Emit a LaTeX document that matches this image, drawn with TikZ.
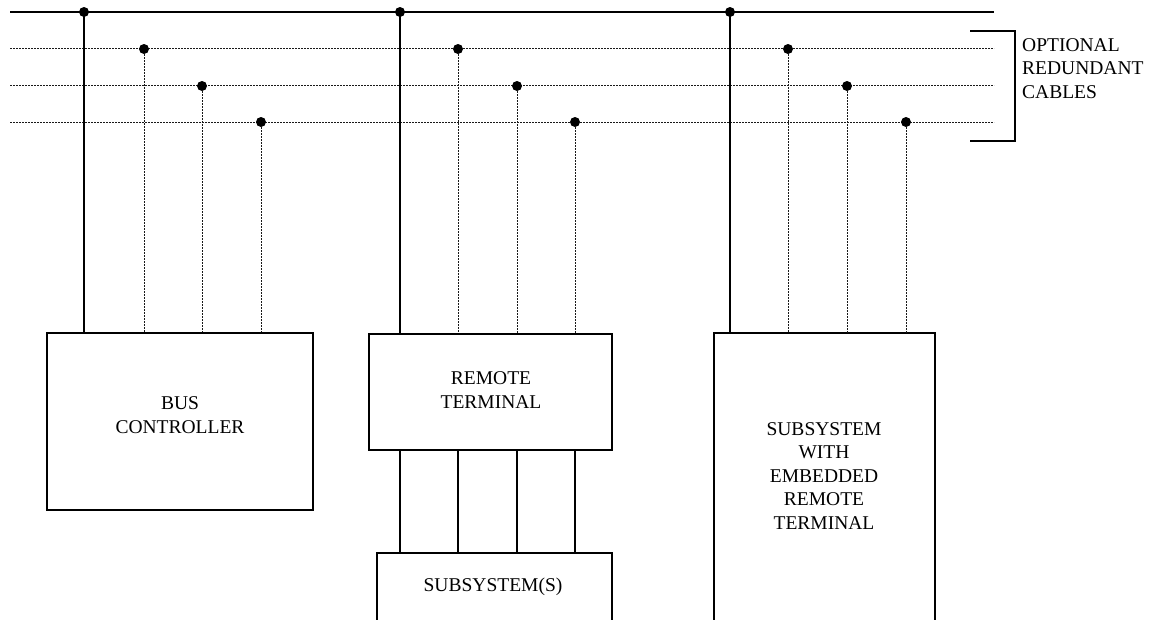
\documentclass[tikz,border=0pt]{standalone}
\usepackage{fontspec}
\setmainfont{Liberation Serif}
\begin{document}
\begin{tikzpicture}[x=1pt,y=-1pt,
  bus/.style={line width=2.2pt},
  redund/.style={line width=1pt, dash pattern=on 2pt off 1pt, black!90},
  tap/.style={circle, fill=black, inner sep=0pt, minimum size=10pt},
  box/.style={draw, line width=2.2pt, inner sep=0pt},
  lbl/.style={align=center, inner sep=0pt, font=\fontsize{19.5}{23.5}\selectfont}]
\useasboundingbox (0,0) rectangle (1152,619);

% bus lines
\coordinate (bAs) at (10,12);  \coordinate (bAe) at (994,12);
\coordinate (bBs) at (10,48);  \coordinate (bBe) at (994,48);
\coordinate (bCs) at (10,85);  \coordinate (bCe) at (994,85);
\coordinate (bDs) at (10,122); \coordinate (bDe) at (994,122);
\draw[bus] (bAs) -- (bAe);
\draw[redund] (bBs) -- (bBe);
\draw[redund] (bCs) -- (bCe);
\draw[redund] (bDs) -- (bDe);

% boxes
\node[box, minimum width=266pt, minimum height=177pt] (bc) at (180,421.5) {};
\node[lbl] (bcl) at (180,415) {BUS\\CONTROLLER};

\node[box, minimum width=243pt, minimum height=116pt] (rt) at (490.5,392) {};
\node[lbl] (rtl) at (491,390) {REMOTE\\TERMINAL};

\coordinate (ssbl) at (377,625); \coordinate (sstl) at (377,553);
\coordinate (sstr) at (612,553); \coordinate (ssbr) at (612,625);
\draw[bus] (ssbl) -- (sstl) -- (sstr) -- (ssbr);
\node[lbl] (ssl) at (493,587) {SUBSYSTEM(S)};

\coordinate (embl) at (714,625); \coordinate (emtl) at (714,333);
\coordinate (emtr) at (935,333); \coordinate (embr) at (935,625);
\draw[bus] (embl) -- (emtl) -- (emtr) -- (embr);
\node[lbl] (eml) at (824,476) {SUBSYSTEM\\WITH\\EMBEDDED\\REMOTE\\TERMINAL};

% taps
\node[tap] (t11) at (84,12) {};
\node[tap] (t12) at (144,49) {};
\node[tap] (t13) at (202,86) {};
\node[tap] (t14) at (261,122) {};
\node[tap] (t21) at (400,12) {};
\node[tap] (t22) at (458,49) {};
\node[tap] (t23) at (517,86) {};
\node[tap] (t24) at (575,122) {};
\node[tap] (t31) at (730,12) {};
\node[tap] (t32) at (788,49) {};
\node[tap] (t33) at (847,86) {};
\node[tap] (t34) at (906,122) {};

% stubs
\draw[bus] (t11.center) -- (t11.center |- bc.north);
\draw[redund] (t12.south) -- (t12.center |- bc.north);
\draw[redund] (t13.south) -- (t13.center |- bc.north);
\draw[redund] (t14.south) -- (t14.center |- bc.north);
\draw[bus] (t21.center) -- (t21.center |- rt.north);
\draw[redund] (t22.south) -- (t22.center |- rt.north);
\draw[redund] (t23.south) -- (t23.center |- rt.north);
\draw[redund] (t24.south) -- (t24.center |- rt.north);
\draw[bus] (t31.center) -- (t31.center |- emtl);
\draw[redund] (t32.south) -- (t32.center |- emtl);
\draw[redund] (t33.south) -- (t33.center |- emtl);
\draw[redund] (t34.south) -- (t34.center |- emtl);

% remote terminal to subsystem(s)
\draw[bus] (t21.center |- rt.south) -- (t21.center |- sstl);
\draw[bus] (t22.center |- rt.south) -- (t22.center |- sstl);
\draw[bus] (t23.center |- rt.south) -- (t23.center |- sstl);
\draw[bus] (t24.center |- rt.south) -- (t24.center |- sstl);

% bracket
\coordinate (brt) at (970,31); \coordinate (brtr) at (1015,31);
\coordinate (brbr) at (1015,141); \coordinate (brb) at (970,141);
\draw[bus] (brt) -- (brtr) -- (brbr) -- (brb);
\node[lbl, align=left, anchor=west] (brl) at (1022,68.5) {OPTIONAL\\REDUNDANT\\CABLES};
\end{tikzpicture}
\end{document}
